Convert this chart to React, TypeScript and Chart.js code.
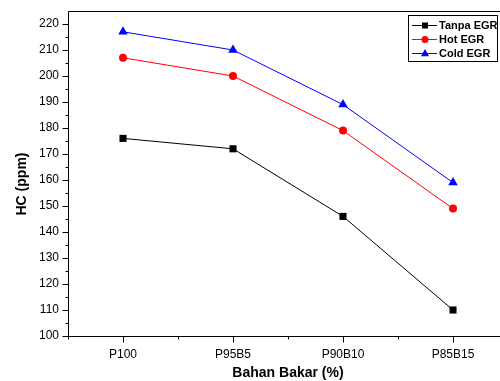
import React, { useEffect, useRef } from 'react';
import { Chart, registerables } from 'chart.js';

Chart.register(...registerables);

const categories = ['P100', 'P95B5', 'P90B10', 'P85B15'];
const tanpaEGR = [176, 172, 146, 110];
const hotEGR = [207, 200, 179, 149];
const coldEGR = [217, 210, 189, 159];
const seriesLabels = ['Tanpa EGR', 'Hot EGR', 'Cold EGR'];
const seriesColors = ['#000000', '#ff0000', '#0000ff'];
const seriesShapes = ['rect', 'circle', 'triangle'];
const yTitle = 'HC (ppm)';
const xTitle = 'Bahan Bakar (%)';
const yMin = 100;
const yMax = 225;
const yStep = 5;
const yLabelStep = 10;
const yLabelMax = 220;

const FONT = "'Liberation Sans', Arial, sans-serif";

function drawMarker(ctx: CanvasRenderingContext2D, shape: string, x: number, y: number, r: number, color: string) {
  ctx.save();
  ctx.fillStyle = color;
  ctx.beginPath();
  if (shape === 'rect') {
    ctx.rect(x - r, y - r, 2 * r, 2 * r);
  } else if (shape === 'circle') {
    ctx.arc(x, y, r, 0, Math.PI * 2);
  } else {
    ctx.moveTo(x, y - r * 1.1);
    ctx.lineTo(x + r * 1.0, y + r * 0.7);
    ctx.lineTo(x - r * 1.0, y + r * 0.7);
    ctx.closePath();
  }
  ctx.fill();
  ctx.restore();
}

const framePlugin = {
  id: 'frame',
  afterDraw(chart: any) {
    const ctx: CanvasRenderingContext2D = chart.ctx;
    const { left, right, top, bottom } = chart.chartArea;
    const L = Math.round(left) + 0.5;
    const R = Math.round(right) + 0.5;
    const T = Math.round(top) + 0.5;
    const B = Math.round(bottom) + 0.5;
    ctx.save();
    ctx.strokeStyle = '#000';
    ctx.lineWidth = 1;
    ctx.beginPath();
    ctx.rect(L, T, R - L, B - T);
    ctx.stroke();

    // y ticks
    const ys = chart.scales.y;
    ctx.beginPath();
    ys.ticks.forEach((t: any) => {
      if (t.value >= yMax) return;
      const py = Math.round(ys.getPixelForValue(t.value)) + 0.5;
      const len = t.value % yLabelStep === 0 ? 6 : 3;
      ctx.moveTo(L - len, py);
      ctx.lineTo(L, py);
    });
    // x ticks
    const xs = chart.scales.x;
    const n = categories.length;
    const step = (right - left) / n;
    for (let i = 0; i < n; i++) {
      const px = Math.round(xs.getPixelForTick(i)) + 0.5;
      ctx.moveTo(px, B);
      ctx.lineTo(px, B + 6);
    }
    for (let i = 0; i <= n; i++) {
      const px = Math.round(left + i * step) + 0.5;
      ctx.moveTo(px, B);
      ctx.lineTo(px, B + 3);
    }
    ctx.stroke();

    // titles
    ctx.fillStyle = '#000';
    ctx.font = `bold 14px ${FONT}`;
    ctx.textAlign = 'center';
    ctx.textBaseline = 'middle';
    ctx.fillText(xTitle, (left + right) / 2, 373);
    ctx.save();
    ctx.translate(22, 184);
    ctx.rotate(-Math.PI / 2);
    ctx.fillText(yTitle, 0, 0);
    ctx.restore();

    // legend
    const bx = 408.5, by = 15.5, bw = 89, bh = 46;
    ctx.strokeRect(bx, by, bw, bh);
    ctx.font = `bold 11px ${FONT}`;
    ctx.textAlign = 'left';
    ctx.textBaseline = 'middle';
    seriesLabels.forEach((lab, i) => {
      const cy = 25 + i * 14;
      ctx.strokeStyle = seriesColors[i];
      ctx.beginPath();
      ctx.moveTo(412, cy + 0.5);
      ctx.lineTo(437, cy + 0.5);
      ctx.stroke();
      drawMarker(ctx, seriesShapes[i], 425, cy + 0.5, seriesShapes[i] === 'rect' ? 3 : seriesShapes[i] === 'circle' ? 3.5 : 4, seriesColors[i]);
      ctx.fillStyle = '#000';
      ctx.fillText(lab, 439, cy + 1);
    });
    ctx.restore();
  },
};

export default function App() {
  const ref = useRef<HTMLCanvasElement | null>(null);
  useEffect(() => {
    if (!ref.current) return;
    Chart.defaults.font.family = FONT;
    const seriesData = [tanpaEGR, hotEGR, coldEGR];
    const chart = new Chart(ref.current, {
      type: 'line',
      data: {
        labels: categories,
        datasets: seriesData.map((d, i) => ({
          label: seriesLabels[i],
          data: d,
          borderColor: seriesColors[i],
          backgroundColor: seriesColors[i],
          borderWidth: 1,
          tension: 0,
          pointStyle: seriesShapes[i] === 'rect' ? 'rect' : seriesShapes[i] === 'circle' ? 'circle' : 'triangle',
          pointRadius: seriesShapes[i] === 'rect' ? 5 : seriesShapes[i] === 'circle' ? 4 : 5.5,
          pointBorderWidth: 0,
          pointBackgroundColor: seriesColors[i],
          pointBorderColor: seriesColors[i],
          fill: false,
          clip: false as any,
        })),
      },
      options: {
        responsive: false,
        maintainAspectRatio: false,
        devicePixelRatio: 1,
        animation: false,
        layout: { padding: { top: 11, right: 12, bottom: 0, left: 0 } },
        plugins: {
          legend: { display: false },
          tooltip: { enabled: false },
        },
        scales: {
          x: {
            type: 'category',
            offset: true,
            grid: { display: false, drawTicks: false },
            border: { display: false },
            ticks: { color: '#000', font: { size: 12 }, padding: 11, maxRotation: 0, autoSkip: false },
            afterFit: (s: any) => { s.height = 45; s.paddingLeft = 0; s.paddingRight = 0; },
          },
          y: {
            min: yMin,
            max: yMax,
            grid: { display: false, drawTicks: false },
            border: { display: false },
            ticks: {
              stepSize: yStep,
              color: '#000',
              font: { size: 12 },
              padding: 9,
              autoSkip: false,
              callback: (v: any) => (Number(v) % yLabelStep === 0 && Number(v) <= yLabelMax ? String(v) : ''),
            },
            afterFit: (s: any) => { s.width = 68; s.paddingTop = 0; s.paddingBottom = 0; },
          },
        },
      },
      plugins: [framePlugin],
    });
    return () => chart.destroy();
  }, []);
  return (
    <div style={{ position: 'fixed', left: 0, top: 0, width: 500, height: 381, overflow: 'hidden', background: '#fff' }}>
      <canvas ref={ref} width={520} height={381} style={{ display: 'block', width: 520, height: 381 }} />
    </div>
  );
}
